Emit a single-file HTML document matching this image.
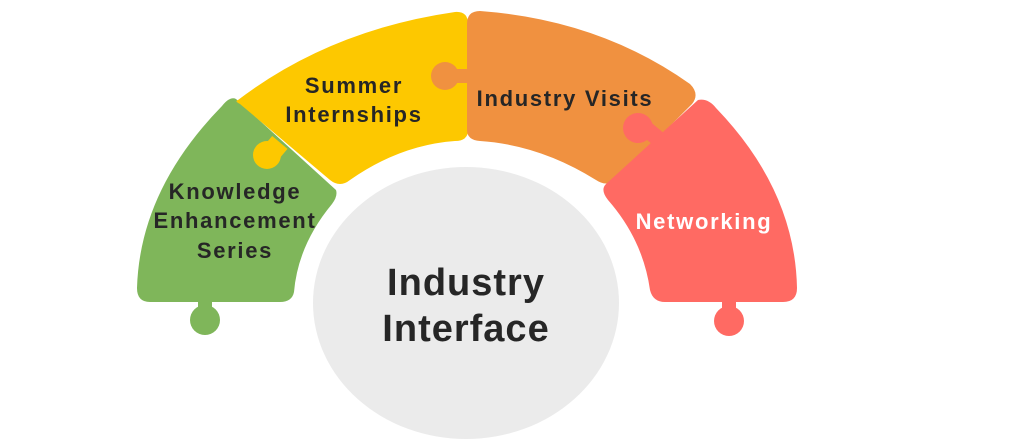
<!DOCTYPE html>
<html><head><meta charset="utf-8"><style>
html,body{margin:0;padding:0;background:#fff;}
svg{display:block;}
text{font-family:"Liberation Sans",sans-serif;font-weight:bold;}
</style></head><body>
<svg width="1024" height="448" viewBox="0 0 1024 448">
<ellipse cx="466" cy="303" rx="153" ry="136" fill="#ebebeb"/>
<!-- green -->
<path d="M236,99 L336,190 Q338,196 332,204 Q298,245 294,292 Q292,302 280,302 L150,302 Q137,302 137,288 Q140,190 222,106 Q230,96 236,99 Z" fill="#7fb65a"/>
<circle cx="205" cy="320" r="15" fill="#7fb65a"/>
<rect x="198" y="296" width="14" height="16" fill="#7fb65a"/>
<!-- yellow -->
<path d="M238,100 Q330,30 455,12 Q468,11 468,24 L468,130 Q468,141 455,141 Q400,145 350,180 Q340,188 330,180 L240,104 Q234,101 238,100 Z" fill="#fdc800"/>
<circle cx="267" cy="155" r="14" fill="#fdc800"/>
<rect x="266" y="141" width="20" height="12" fill="#fdc800" transform="rotate(40 276 147)"/>
<!-- orange -->
<path d="M480,11 Q600,20 690,84 Q700,94 692,104 L618,178 Q608,188 596,180 Q540,145 480,141 Q467,140 467,130 L467,24 Q467,11 480,11 Z" fill="#f09140"/>
<circle cx="445" cy="76" r="14" fill="#f09140"/>
<rect x="450" y="69" width="22" height="14" fill="#f09140"/>
<!-- red -->
<path d="M698,100 Q708,98 716,108 Q795,190 797,288 Q797,302 783,302 L665,302 Q653,302 650,290 Q643,240 608,200 Q600,190 606,184 Z" fill="#ff6a63"/>
<circle cx="638" cy="128" r="15" fill="#ff6a63"/>
<rect x="640" y="124" width="20" height="16" fill="#ff6a63" transform="rotate(40 650 132)"/>
<circle cx="729" cy="321" r="15" fill="#ff6a63"/>
<rect x="722" y="296" width="14" height="16" fill="#ff6a63"/>
<!-- labels -->
<g fill="#262626" font-size="22" letter-spacing="1.7" text-anchor="middle">
<text x="354" y="93">Summer</text>
<text x="354" y="122">Internships</text>
<text x="565" y="106">Industry Visits</text>
<text x="235" y="199">Knowledge</text>
<text x="235" y="228">Enhancement</text>
<text x="235" y="258">Series</text>
</g>
<text x="704" y="229" font-size="22" letter-spacing="1.7" fill="#fff" text-anchor="middle">Networking</text>
<g fill="#262626" font-size="38" letter-spacing="1" text-anchor="middle">
<text x="466" y="295">Industry</text>
<text x="466" y="341">Interface</text>
</g>
</svg>
</body></html>
